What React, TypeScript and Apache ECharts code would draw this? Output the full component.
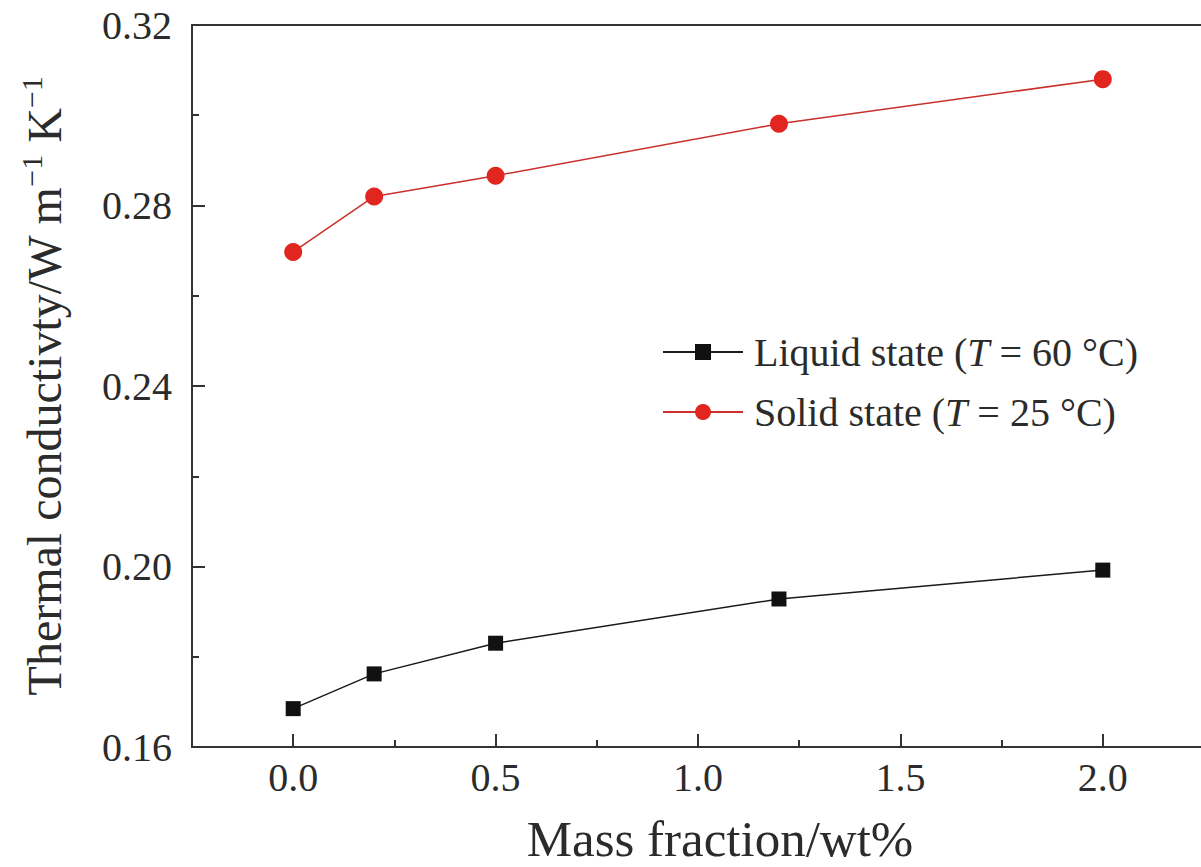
import React, { useEffect, useRef } from "react";
import * as echarts from "echarts";

// Mass fraction of additive (wt%)
const massFraction = [0, 0.2, 0.5, 1.2, 2.0];
// Thermal conductivity (W m^-1 K^-1)
const liquidState = [0.1685, 0.1762, 0.183, 0.1928, 0.1992];
const solidState = [0.2697, 0.282, 0.2866, 0.2981, 0.308];

const xMajorTicks = [0, 0.5, 1.0, 1.5, 2.0];
const xMinorTicks = [0.25, 0.75, 1.25, 1.75];

const seriesNames = ["Liquid state (T = 60 °C)", "Solid state (T = 25 °C)"];

const FONT = "'Liberation Serif', 'Times New Roman', serif";
const INK = "#2b2b2b";

export default function App() {
  const ref = useRef<HTMLDivElement>(null);

  useEffect(() => {
    if (!ref.current) return;
    const chart = echarts.init(ref.current, null, { renderer: "svg" });

    const pair = (ys: number[]) => massFraction.map((x, i) => [x, ys[i]]);

    const axisLine = { show: true, onZero: false, lineStyle: { color: "#333", width: 2 } };

    chart.setOption({
      animation: false,
      backgroundColor: "#fff",
      grid: {
        left: 192,
        width: 1012,
        top: 25,
        bottom: 120,
        outerBoundsMode: "none",
        containLabel: false,
        show: true,
        borderColor: "#333",
        borderWidth: 2,
      },
      legend: {
        data: seriesNames,
        orient: "vertical",
        left: 657,
        top: 327,
        itemWidth: 80,
        itemHeight: 20,
        itemGap: 20,
        formatter: (name: string) => {
          const m = name.match(/^(.*\()T( = .*)$/);
          if (!m) return `{n|${name}}`;
          return `{n|${m[1]}}{i|T}{n|${m[2]}}`;
        },
        textStyle: {
          color: INK,
          padding: [0, 0, 0, 6],
          rich: {
            n: { fontSize: 40, fontFamily: FONT, color: INK },
            i: { fontSize: 40, fontFamily: FONT, fontStyle: "italic", color: INK },
          },
        },
      },
      xAxis: [
        {
          type: "value",
          min: -0.25,
          max: 2.25,
          position: "bottom",
          name: "Mass fraction/wt%",
          nameLocation: "middle",
          nameGap: 66,
          nameTextStyle: {
            fontSize: 51,
            fontFamily: FONT,
            color: INK,
            padding: [0, 0, 0, 44],
          },
          axisLine,
          axisTick: {
            show: true,
            inside: true,
            length: 13,
            lineStyle: { color: "#333", width: 2 },
            customValues: xMajorTicks,
          },
          axisLabel: {
            show: true,
            margin: 10,
            fontSize: 40,
            fontFamily: FONT,
            color: INK,
            customValues: xMajorTicks,
            formatter: (v: number) => v.toFixed(1),
          },
          splitLine: { show: false },
        },
        {
          type: "value",
          min: -0.25,
          max: 2.25,
          position: "bottom",
          axisLine: { show: false },
          axisTick: {
            show: true,
            inside: true,
            length: 7,
            lineStyle: { color: "#333", width: 2 },
            customValues: xMinorTicks,
          },
          axisLabel: { show: false },
          splitLine: { show: false },
        },
      ],
      yAxis: {
        type: "value",
        min: 0.16,
        max: 0.32,
        interval: 0.04,
        name: "{a|Thermal conductivty/W m}{s|−1}{a| K}{s|−1}",
        nameLocation: "middle",
        nameGap: 120,
        nameRotate: 90,
        nameTextStyle: {
          color: INK,
          rich: {
            a: { fontSize: 48, fontFamily: FONT, color: INK },
            s: { fontSize: 30, fontFamily: FONT, color: INK, padding: [0, 0, 26, 0] },
          },
        },
        axisLine,
        axisTick: {
          show: true,
          inside: true,
          length: 13,
          lineStyle: { color: "#333", width: 2 },
        },
        minorTick: {
          show: true,
          splitNumber: 2,
          length: 7,
          lineStyle: { color: "#333", width: 2 },
        },
        axisLabel: {
          margin: 20,
          fontSize: 40,
          fontFamily: FONT,
          color: INK,
          formatter: (v: number) => v.toFixed(2),
        },
        splitLine: { show: false },
      },
      series: [
        {
          name: seriesNames[0],
          type: "line",
          data: pair(liquidState),
          symbol: "rect",
          symbolSize: 15,
          lineStyle: { color: "#1a1a1a", width: 1.5 },
          itemStyle: { color: "#111" },
        },
        {
          name: seriesNames[1],
          type: "line",
          data: pair(solidState),
          symbol: "circle",
          symbolSize: 18,
          lineStyle: { color: "#c9302a", width: 1.5 },
          itemStyle: { color: "#e0261f" },
        },
      ],
    });

    return () => chart.dispose();
  }, []);

  return (
    <div
      ref={ref}
      style={{ position: "fixed", left: 0, top: 0, width: 1201, height: 867 }}
    />
  );
}
